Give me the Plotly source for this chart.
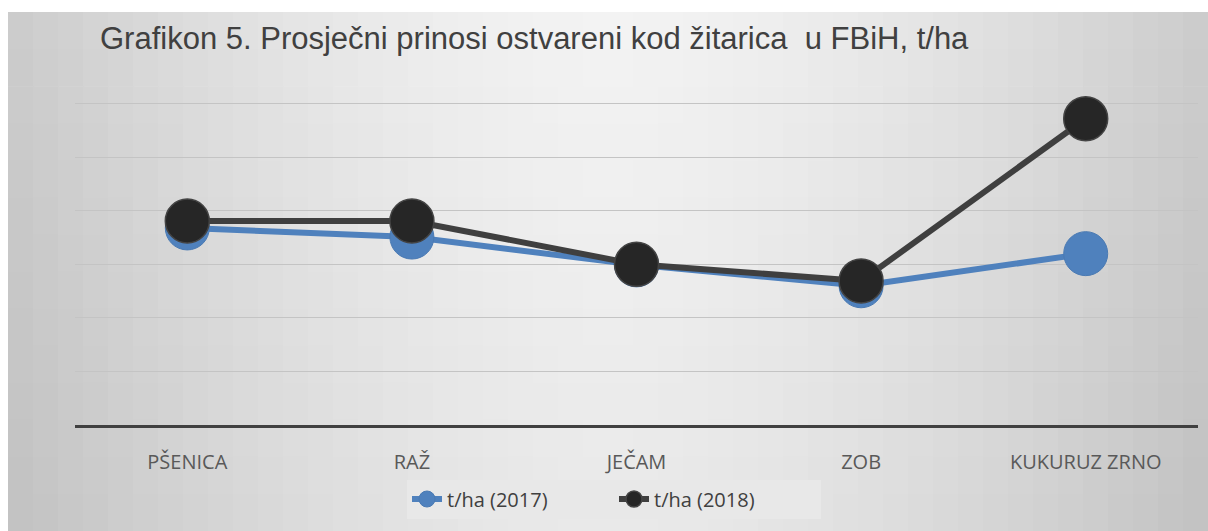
import plotly.graph_objects as go

categories = ["PŠENICA", "RAŽ", "JEČAM", "ZOB", "KUKURUZ ZRNO"]
yield_2017 = [3.68, 3.51, 2.99, 2.60, 3.20]
yield_2018 = [3.81, 3.81, 3.00, 2.69, 5.72]
series_names = ["t/ha (2017)", "t/ha (2018)"]
title_text = "Grafikon 5. Prosječni prinosi ostvareni kod žitarica  u FBiH, t/ha"

W, H = 1208, 531
L, R, T, B = 75, 10, 93, 106
pw, ph = W - L - R, H - T - B

def px_to_paper_x(px):
    return (px - L) / pw

def px_to_paper_y(py):
    return (H - B - py) / ph

# background gradient (grid of rectangles)
shapes = []
ncol, nrow = 48, 14
x0p, y0p = 8, 12
for i in range(ncol):
    for j in range(nrow):
        xa = x0p + (W - x0p) * i / ncol
        xb = x0p + (W - x0p) * (i + 1) / ncol
        ya = y0p + (H - y0p) * j / nrow
        yb = y0p + (H - y0p) * (j + 1) / nrow
        cx = ((xa + xb) / 2 - x0p) / (W - x0p)
        cy = ((ya + yb) / 2 - y0p) / (H - y0p)
        d = abs(cx - 0.5) * 2
        v = 243 - 40 * d ** 1.6 - 10 * cy
        v = int(round(v))
        shapes.append(dict(type="rect", xref="paper", yref="paper",
                           x0=px_to_paper_x(xa), x1=px_to_paper_x(xb) + 0.001,
                           y0=px_to_paper_y(yb) - 0.002, y1=px_to_paper_y(ya),
                           fillcolor=f"rgb({v},{v},{v})", line=dict(width=0),
                           layer="below"))

fig = go.Figure()
fig.add_trace(go.Scatter(
    x=categories, y=yield_2017, name=series_names[0], mode="lines+markers",
    line=dict(color="#4f81bd", width=6),
    marker=dict(size=44, color="#4f81bd", line=dict(color="#4a7ab3", width=1)),
))
fig.add_trace(go.Scatter(
    x=categories, y=yield_2018, name=series_names[1], mode="lines+markers",
    line=dict(color="#3f3f3f", width=6),
    marker=dict(size=44, color="#262626", line=dict(color="#444444", width=1.5)),
))

fig.update_layout(
    width=W, height=H,
    margin=dict(l=L, r=R, t=T, b=B),
    paper_bgcolor="white",
    plot_bgcolor="rgba(0,0,0,0)",
    shapes=shapes,
    title=dict(text=title_text, x=px_to_paper_x(100), xref="paper", xanchor="left",
               y=1 - 38 / H, yref="container", yanchor="middle",
               font=dict(family="Liberation Sans, Arial", size=31, color="#404040")),
    xaxis=dict(type="category", range=[-0.5, 4.5], showgrid=False,
               showline=True, linecolor="#404040", linewidth=3,
               ticks="outside", ticklen=17, tickcolor="rgba(0,0,0,0)",
               tickfont=dict(family="Open Sans", size=20, color="#595959")),
    yaxis=dict(range=[0, 6.2], showgrid=True, gridcolor="#c4c4c4", gridwidth=1,
               dtick=1, showticklabels=False, zeroline=False, showline=False),
    legend=dict(orientation="h", x=px_to_paper_x(614), xanchor="center",
                y=px_to_paper_y(499), yanchor="middle",
                bgcolor="#e8e8e8", font=dict(family="Open Sans", size=20, color="#404040"),
                entrywidth=162, entrywidthmode="pixels"),
    showlegend=True,
)

fig.write_html("out.html", config={"displayModeBar": False},
               post_script="document.body.style.margin='0px';document.body.style.overflow='hidden';")
